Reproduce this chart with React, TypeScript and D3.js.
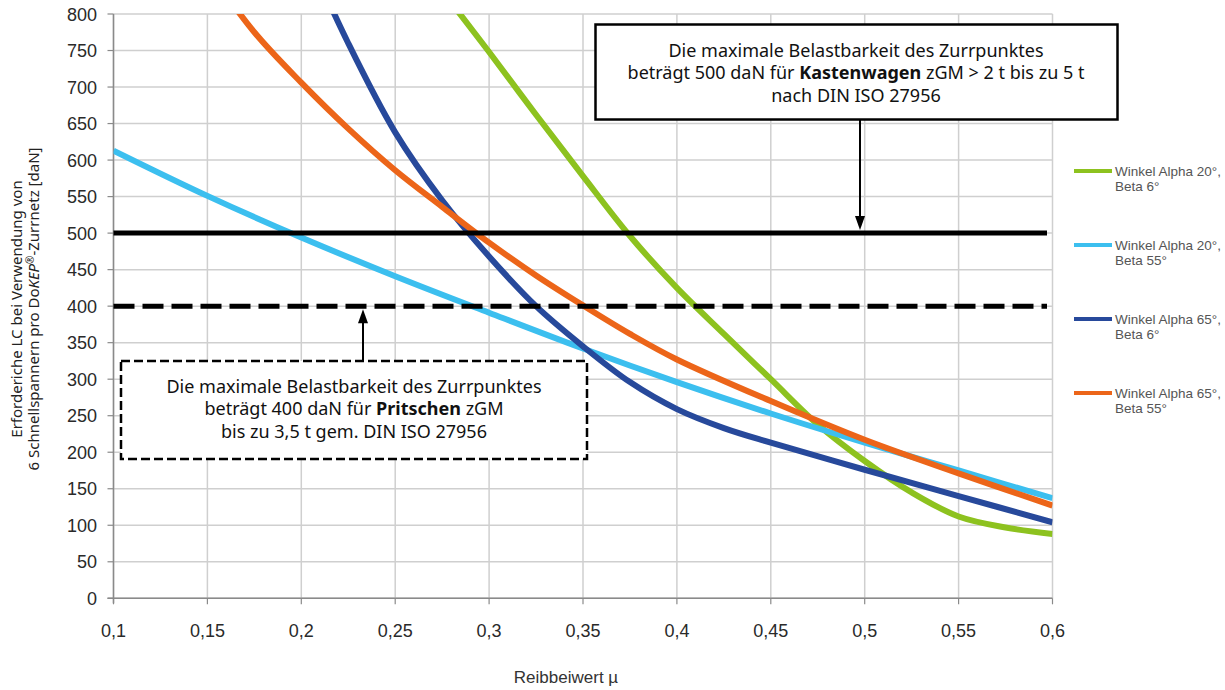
import React from "react";
import * as d3 from "d3";

const muTicks = [0.1, 0.15, 0.2, 0.25, 0.3, 0.35, 0.4, 0.45, 0.5, 0.55, 0.6];
const yTicks = [0, 50, 100, 150, 200, 250, 300, 350, 400, 450, 500, 550, 600, 650, 700, 750, 800];

const greenMu = [0.28, 0.3, 0.325, 0.35, 0.375, 0.4, 0.425, 0.45, 0.475, 0.5, 0.525, 0.55, 0.575, 0.6];
const greenVal = [815, 748, 662, 578, 496, 425, 362, 300, 238, 188, 145, 112, 97, 88];

const lightMu = [0.1, 0.15, 0.2, 0.25, 0.3, 0.35, 0.4, 0.45, 0.5, 0.55, 0.6];
const lightVal = [613, 551, 494, 441, 391, 342, 296, 253, 213, 175, 137];

const darkMu = [0.2, 0.225, 0.25, 0.275, 0.3, 0.325, 0.35, 0.375, 0.4, 0.425, 0.45, 0.5, 0.55, 0.6];
const darkVal = [900, 760, 638, 545, 468, 400, 345, 296, 259, 233, 213, 176, 140, 104];

const orangeMu = [0.15, 0.175, 0.2, 0.225, 0.25, 0.275, 0.3, 0.325, 0.35, 0.375, 0.4, 0.45, 0.5, 0.55, 0.6];
const orangeVal = [862, 775, 706, 643, 586, 536, 487, 442, 401, 362, 327, 270, 217, 171, 127];

const seriesNames = [
  ["Winkel Alpha 20°,", "Beta 6°"],
  ["Winkel Alpha 20°,", "Beta 55°"],
  ["Winkel Alpha 65°,", "Beta 6°"],
  ["Winkel Alpha 65°,", "Beta 55°"],
];
const seriesColors = ["#8dc21f", "#3cbfef", "#27499b", "#ec6519"];

const limitSolid = 500;
const limitDashed = 400;

export default function App() {
  const W = 1225, H = 690;
  const left = 113.5, right = 1052.5, top = 14, bottom = 598.3;
  const x = d3.scaleLinear().domain([0.1, 0.6]).range([left, right]);
  const y = d3.scaleLinear().domain([0, 800]).range([bottom, top]);

  const series = [
    { mu: greenMu, v: greenVal },
    { mu: lightMu, v: lightVal },
    { mu: darkMu, v: darkVal },
    { mu: orangeMu, v: orangeVal },
  ];
  const line = d3
    .line<[number, number]>()
    .x((d) => x(d[0]))
    .y((d) => y(d[1]))
    .curve(d3.curveCatmullRom.alpha(0.5));

  const tickFont = "'Liberation Sans', Arial, sans-serif";
  const boxFont = "'Noto Sans', sans-serif";

  const arrow1X = 860;
  const arrow2X = 363;

  return (
    <svg width={W} height={H} style={{ position: "absolute", left: 0, top: 0, background: "#fff" }}>
      <defs>
        <clipPath id="plotclip">
          <rect x={left} y={top} width={right - left} height={bottom - top} />
        </clipPath>
      </defs>
      {/* grid */}
      {yTicks.map((t) => (
        <line key={"gy" + t} x1={left} x2={right} y1={y(t)} y2={y(t)} stroke="#cfcfcf" strokeWidth={1.5} />
      ))}
      {muTicks.map((t) => (
        <line key={"gx" + t} x1={x(t)} x2={x(t)} y1={top} y2={bottom} stroke="#cfcfcf" strokeWidth={1.5} />
      ))}
      {/* axes */}
      <line x1={left} x2={left} y1={top} y2={bottom + 5} stroke="#8a8a8a" strokeWidth={1.5} />
      <line x1={left - 6} x2={right} y1={bottom} y2={bottom} stroke="#8a8a8a" strokeWidth={1.5} />
      {yTicks.map((t) => (
        <line key={"ty" + t} x1={left - 6} x2={left} y1={y(t)} y2={y(t)} stroke="#8a8a8a" strokeWidth={1.2} />
      ))}
      {muTicks.map((t) => (
        <line key={"tx" + t} x1={x(t)} x2={x(t)} y1={bottom} y2={bottom + 6} stroke="#8a8a8a" strokeWidth={1.2} />
      ))}
      {yTicks.map((t) => (
        <text key={"ly" + t} x={97} y={y(t) + 6.5} textAnchor="end" fontFamily={tickFont} fontSize={18} fill="#2a2a2a">
          {t}
        </text>
      ))}
      {muTicks.map((t) => (
        <text key={"lx" + t} x={x(t)} y={637} textAnchor="middle" fontFamily={tickFont} fontSize={18} fill="#2a2a2a">
          {String(t).replace(".", ",")}
        </text>
      ))}
      <text x={566} y={683} textAnchor="middle" fontFamily={tickFont} fontSize={17} fill="#333">
        Reibbeiwert µ
      </text>
      <g transform="translate(18,309) rotate(-90)">
        <text x={0} y={0} textAnchor="middle" fontFamily={boxFont} fontSize={15} fill="#222" dominantBaseline="middle">
          Erforderiche LC bei Verwendung von
        </text>
        <text x={0} y={17} textAnchor="middle" fontFamily={boxFont} fontSize={15} fill="#222" dominantBaseline="middle">
          6 Schnellspannern pro Do<tspan fontStyle="italic">KEP</tspan>
          <tspan fontSize={10} dy={-4}>®</tspan>
          <tspan dy={4}>-Zurrnetz [daN]</tspan>
        </text>
      </g>
      {/* curves */}
      <g clipPath="url(#plotclip)">
        {series.map((s, i) => (
          <path
            key={"s" + i}
            d={line(s.mu.map((m, j) => [m, s.v[j]] as [number, number])) || ""}
            fill="none"
            stroke={seriesColors[i]}
            strokeWidth={6}
            strokeLinejoin="round"
          />
        ))}
      </g>
      {/* limit lines */}
      <line x1={left} x2={1047} y1={y(limitSolid)} y2={y(limitSolid)} stroke="#000" strokeWidth={5} />
      <line x1={left} x2={1047} y1={y(limitDashed)} y2={y(limitDashed)} stroke="#000" strokeWidth={5} strokeDasharray="21,8" />
      {/* box 1 */}
      <rect x={595.5} y={24.5} width={522} height={95} fill="#fff" stroke="#000" strokeWidth={2.5} />
      <text textAnchor="middle" fontFamily={boxFont} fontSize={18} fill="#111">
        <tspan x={856} y={57}>Die maximale Belastbarkeit des Zurrpunktes</tspan>
        <tspan x={856} y={79}>
          beträgt 500 daN für <tspan fontWeight="bold">Kastenwagen</tspan> zGM &gt; 2 t bis zu 5 t
        </tspan>
        <tspan x={856} y={102}>nach DIN ISO 27956</tspan>
      </text>
      <line x1={arrow1X} x2={arrow1X} y1={120} y2={y(limitSolid) - 14} stroke="#000" strokeWidth={2} />
      <path
        d={`M${arrow1X - 5},${y(limitSolid) - 17} L${arrow1X + 5},${y(limitSolid) - 17} L${arrow1X},${y(limitSolid) - 3} Z`}
        fill="#000"
      />
      {/* box 2 */}
      <rect x={121} y={361} width={466} height={98} fill="#fff" stroke="#000" strokeWidth={2.5} strokeDasharray="9,4" />
      <text textAnchor="middle" fontFamily={boxFont} fontSize={18} fill="#111">
        <tspan x={354} y={393}>Die maximale Belastbarkeit des Zurrpunktes</tspan>
        <tspan x={354} y={415}>
          beträgt 400 daN für <tspan fontWeight="bold">Pritschen</tspan> zGM
        </tspan>
        <tspan x={354} y={438}>bis zu 3,5 t gem. DIN ISO 27956</tspan>
      </text>
      <line x1={arrow2X} x2={arrow2X} y1={361} y2={y(limitDashed) + 14} stroke="#000" strokeWidth={2} />
      <path
        d={`M${arrow2X - 5},${y(limitDashed) + 17} L${arrow2X + 5},${y(limitDashed) + 17} L${arrow2X},${y(limitDashed) + 3} Z`}
        fill="#000"
      />
      {/* legend */}
      {seriesNames.map((n, i) => {
        const ly = [171, 245, 319, 393][i];
        return (
          <g key={"lg" + i}>
            <line x1={1074} x2={1112} y1={ly} y2={ly} stroke={seriesColors[i]} strokeWidth={4} />
            <text x={1115} y={ly + 5} fontFamily={tickFont} fontSize={13.5} fill="#555">
              {n[0]}
            </text>
            <text x={1115} y={ly + 20} fontFamily={tickFont} fontSize={13.5} fill="#555">
              {n[1]}
            </text>
          </g>
        );
      })}
    </svg>
  );
}
